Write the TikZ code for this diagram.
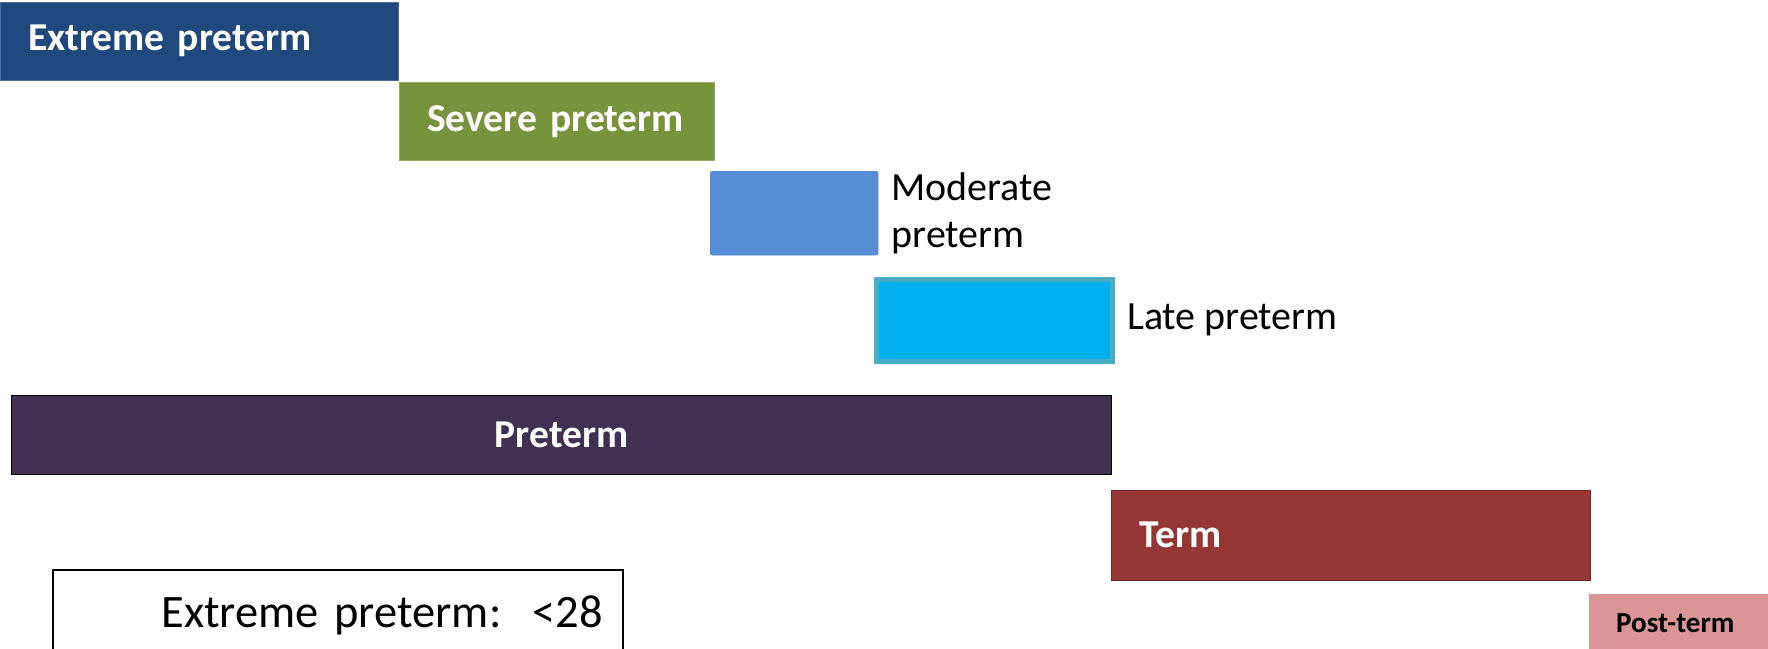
\documentclass[tikz,border=0pt]{standalone}
\usepackage{fontspec}
\setmainfont{Carlito}
\usetikzlibrary{positioning}
\definecolor{colext}{HTML}{1F497D}
\definecolor{colsev}{HTML}{77933C}
\definecolor{colmod}{HTML}{558ED5}
\definecolor{collate}{HTML}{00B0F0}
\definecolor{collateb}{HTML}{4BACC6}
\definecolor{colpre}{HTML}{403152}
\definecolor{colterm}{HTML}{953735}
\definecolor{colpost}{HTML}{D99694}

\begin{document}
\begin{tikzpicture}[x=1pt,y=-1pt,
  bar/.style={anchor=north west,inner xsep=28pt,inner ysep=0pt,align=left,
              text=white,font=\fontsize{39.5}{47}\selectfont\bfseries},
  swatch/.style={anchor=north west,inner sep=0pt},
  plain/.style={inner sep=0pt,align=left,font=\fontsize{40}{47}\selectfont}
]
  \useasboundingbox (0,0) rectangle (1768,648);
  \clip (0,0) rectangle (1768,648);

  \node[bar,fill=colext,draw=colext!80!white,text width=342pt,minimum height=78pt] (ext)
    at (0,2) {Extreme preterm};
  \node[bar,fill=colsev,draw=colsev!80!white,text width=259pt,minimum height=78pt] (sev)
    at (399,82) {Severe preterm};

  \node[swatch,fill=colmod,draw=colmod,rounded corners=2pt,
        minimum width=168pt,minimum height=84pt] (mod) at (710,171) {};
  \node[plain,anchor=west,right=13pt of mod] (modlbl) {Moderate\\preterm};

  \node[swatch,fill=collate,draw=collateb,line width=5pt,
        minimum width=236pt,minimum height=82pt] (late) at (874,276.5) {};
  \node[plain,anchor=west,right=12pt of late] (latelbl) {Late preterm};

  \node[bar,fill=colpre,draw=black,line width=1.2pt,align=center,
        text width=1044pt,minimum height=79pt] (pre) at (11,395) {Preterm};
  \node[bar,fill=colterm,draw=colterm!75!black,text width=423pt,
        minimum height=90pt] (term) at (1111,490) {Term};
  \node[bar,fill=colpost,text=black,inner xsep=27pt,text width=146pt,
        minimum height=58pt,font=\fontsize{29}{34}\selectfont\bfseries] (post)
    at (1589,594) {Post-term};

  \node[anchor=north west,draw=black,line width=1.5pt,inner xsep=20pt,
        inner ysep=0pt,align=right,text width=530pt,minimum height=92pt,
        font=\fontsize{46.5}{54}\selectfont] (legend)
    at (52,569) {Extreme preterm:~~<28};
\end{tikzpicture}
\end{document}
